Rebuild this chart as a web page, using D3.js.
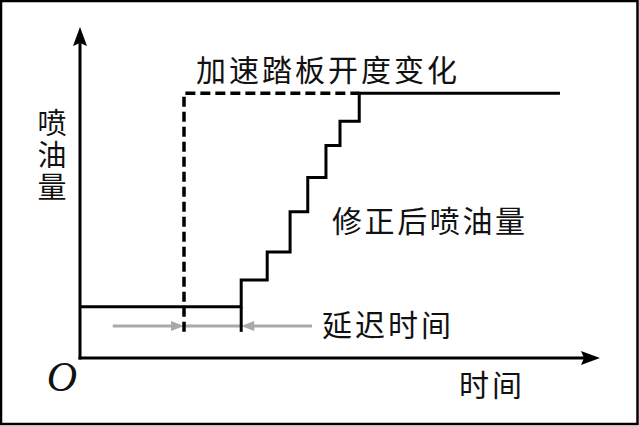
<!DOCTYPE html>
<html>
<head>
<meta charset="utf-8">
<script src="https://cdn.jsdelivr.net/npm/d3@7"></script>
<style>
  body { margin: 0; background: #fff; }
  text { font-family: "Noto Sans CJK SC", sans-serif; fill: #111; }
</style>
</head>
<body>
<div id="chart"></div>
<script>
// Data (time and quantity in arbitrary units)
var stepTimes = [0, 3.1, 3.6, 4.04, 4.38, 4.73, 5.0, 5.37, 9.23]
var stepLevels = [1.55, 2.36, 3.2, 4.42, 5.45, 6.42, 7.15, 8.0, 8.0]
var pedalTimes = [2.0, 2.0, 5.37]
var pedalLevels = [0.79, 8.0, 8.0]
var delayStart = 2.0
var delayEnd = 3.1
var delayArrowFrom = [0.63, 4.46]
var delayLevel = 0.97
var stepFoot = 0.79

var labels = {
  pedal: '加速踏板开度变化',
  fuel: '修正后喷油量',
  delay: '延迟时间',
  xAxis: '时间',
  yAxis: '喷油量',
  origin: 'O'
}

// Dimensions
var width = 639
var height = 426

var xScale = d3.scaleLinear().domain([0, 10]).range([80, 600])
var yScale = d3.scaleLinear().domain([0, 10]).range([358, 27])

var svg = d3.select('#chart').append('svg')
  .attr('width', width)
  .attr('height', height)

// Frame
svg.append('rect')
  .attr('x', 1).attr('y', 1)
  .attr('width', width - 2.5).attr('height', height - 3)
  .attr('fill', 'none')
  .attr('stroke', '#000')
  .attr('stroke-width', 2.5)

// Axes
var x0 = xScale(0), y0 = yScale(0)
var xEnd = xScale(10), yEnd = yScale(10)
svg.append('line')
  .attr('x1', x0).attr('y1', y0 + 1.5)
  .attr('x2', x0).attr('y2', yEnd + 14)
  .attr('stroke', '#000').attr('stroke-width', 3)
svg.append('line')
  .attr('x1', x0 - 1.5).attr('y1', y0)
  .attr('x2', xEnd - 14).attr('y2', y0)
  .attr('stroke', '#000').attr('stroke-width', 3)
svg.append('path')
  .attr('d', 'M' + x0 + ',' + yEnd + 'L' + (x0 - 7) + ',' + (yEnd + 19) +
    'L' + x0 + ',' + (yEnd + 16) + 'L' + (x0 + 7) + ',' + (yEnd + 19) + 'Z')
  .attr('fill', '#000')
svg.append('path')
  .attr('d', 'M' + xEnd + ',' + y0 + 'L' + (xEnd - 19) + ',' + (y0 - 7) +
    'L' + (xEnd - 16) + ',' + y0 + 'L' + (xEnd - 19) + ',' + (y0 + 7) + 'Z')
  .attr('fill', '#000')

// Delay arrows (grey)
var grey = '#a9a9a9'
var gy = yScale(delayLevel)
svg.append('line')
  .attr('x1', xScale(delayStart)).attr('y1', gy)
  .attr('x2', xScale(delayEnd)).attr('y2', gy)
  .attr('stroke', grey).attr('stroke-width', 3)
var arrowTargets = [delayStart, delayEnd]
delayArrowFrom.forEach(function (from, i) {
  var tx = xScale(arrowTargets[i])
  var dir = from < arrowTargets[i] ? 1 : -1
  var fx = xScale(from)
  svg.append('line')
    .attr('x1', fx).attr('y1', gy)
    .attr('x2', tx - dir * 10).attr('y2', gy)
    .attr('stroke', grey).attr('stroke-width', 3)
  svg.append('path')
    .attr('d', 'M' + tx + ',' + gy + 'L' + (tx - dir * 13) + ',' + (gy - 5) +
      'L' + (tx - dir * 13) + ',' + (gy + 5) + 'Z')
    .attr('fill', grey)
})

// Pedal (dashed)
var line = d3.line()
  .x(function (d) { return xScale(d[0]) })
  .y(function (d) { return yScale(d[1]) })

svg.append('path')
  .datum(pedalTimes.map(function (t, i) { return [t, pedalLevels[i]] }))
  .attr('d', line)
  .attr('fill', 'none')
  .attr('stroke', '#000')
  .attr('stroke-width', 3.5)
  .attr('stroke-dasharray', '10,5')

// Corrected fuel quantity (steps)
var stepLine = d3.line()
  .x(function (d) { return xScale(d[0]) })
  .y(function (d) { return yScale(d[1]) })
  .curve(d3.curveStepAfter)

svg.append('path')
  .datum(stepTimes.map(function (t, i) { return [t, stepLevels[i]] }))
  .attr('d', stepLine)
  .attr('fill', 'none')
  .attr('stroke', '#000')
  .attr('stroke-width', 3)
  .attr('stroke-linejoin', 'miter')

// Foot of the delayed step
svg.append('line')
  .attr('x1', xScale(stepTimes[1])).attr('y1', yScale(stepLevels[0]))
  .attr('x2', xScale(stepTimes[1])).attr('y2', yScale(stepFoot))
  .attr('stroke', '#000').attr('stroke-width', 3)

// Labels
svg.append('text')
  .attr('x', 196).attr('y', 81)
  .attr('font-size', 30).attr('letter-spacing', 3)
  .text(labels.pedal)
svg.append('text')
  .attr('x', 332).attr('y', 232)
  .attr('font-size', 30).attr('letter-spacing', 2.6)
  .text(labels.fuel)
svg.append('text')
  .attr('x', 322).attr('y', 336)
  .attr('font-size', 30).attr('letter-spacing', 3)
  .text(labels.delay)
svg.append('text')
  .attr('x', 459).attr('y', 396)
  .attr('font-size', 30).attr('letter-spacing', 3)
  .text(labels.xAxis)
svg.append('text')
  .attr('x', 52).attr('y', 108)
  .attr('font-size', 29)
  .attr('letter-spacing', 3)
  .style('writing-mode', 'vertical-rl')
  .text(labels.yAxis)
svg.append('text')
  .attr('x', 62).attr('y', 391)
  .attr('font-size', 42)
  .attr('font-style', 'italic')
  .attr('text-anchor', 'middle')
  .style('font-family', '"Liberation Serif", serif')
  .text(labels.origin)
</script>
</body>
</html>
